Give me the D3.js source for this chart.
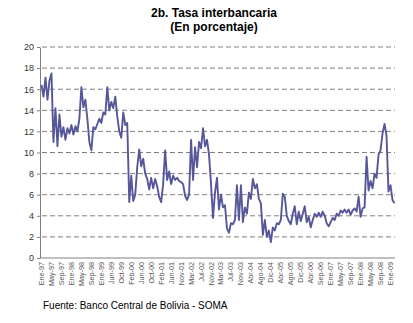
<!DOCTYPE html>
<html>
<head>
<meta charset="utf-8">
<script src="https://cdn.jsdelivr.net/npm/d3@7"></script>
<style>
  html, body { margin: 0; padding: 0; background: #fff; }
  svg { display: block; font-family: "Liberation Sans", Arial, sans-serif; }
</style>
</head>
<body>
<svg id="chart" width="413" height="323"></svg>
<script>
// Tasa interbancaria (%), serie de observaciones equiespaciadas
const tasa = [
  16.4, 15.3, 17.1, 15.0, 16.8, 17.5, 11.0, 14.2, 10.6, 13.6,
  11.5, 12.4, 11.2, 12.3, 11.8, 12.6, 11.7, 12.5, 12.0, 13.2,
  16.2, 14.3, 15.0, 13.2, 11.0, 10.2, 12.4, 12.2, 12.7, 13.2,
  12.8, 13.8, 13.6, 16.2, 14.0, 14.8, 14.2, 15.3, 13.4, 12.0,
  11.4, 13.8, 12.6, 12.8, 5.3, 7.8, 5.4, 6.0, 8.6, 10.3,
  8.7, 9.4, 8.0, 7.5, 6.5, 7.6, 6.6, 7.5, 6.8, 5.8,
  5.3, 7.0, 10.2, 7.4, 8.2, 7.0, 7.8, 7.4, 7.6, 7.3,
  7.2, 7.0, 5.9, 5.5, 6.0, 11.2, 7.4, 10.5, 8.6, 11.0,
  10.4, 12.3, 10.6, 11.2, 9.8, 7.0, 3.8, 6.2, 7.6, 4.6,
  6.0, 4.8, 5.0, 2.8, 2.4, 3.3, 3.2, 3.6, 6.9, 3.6,
  6.9, 3.4, 4.8, 4.2, 6.2, 5.6, 7.5, 6.6, 7.0, 5.6,
  5.2, 2.2, 3.6, 2.0, 2.6, 1.5, 2.9, 2.6, 3.3, 3.2,
  3.6, 6.1, 5.8, 4.0, 3.5, 3.2, 4.2, 4.9, 3.2, 4.4,
  3.5, 4.2, 4.9, 3.4, 3.9, 2.9, 3.6, 4.2, 3.9, 4.3,
  3.9, 4.4, 4.0, 3.3, 3.0, 3.4, 3.8, 3.6, 4.2, 4.0,
  4.5, 4.3, 4.6, 4.3, 4.6, 4.1, 4.5, 4.7, 4.4, 5.8,
  3.9, 4.7, 4.8, 9.6, 6.4, 7.3, 6.6, 8.0, 7.6, 9.8,
  10.2, 11.8, 12.7, 11.6, 6.3, 6.9, 5.5, 5.2
];

// Etiquetas del eje de categorías, una cada 5 observaciones
const etiquetas = [
  "Ene-97", "May-97", "Sep-97", "Ene-98", "May-98", "Sep-98", "Ene-99", "Jun-99",
  "Oct-99", "Feb-00", "Jun-00", "Oct-00", "Feb-01", "Jun-01", "Nov-01", "Mar-02",
  "Jul-02", "Nov-02", "Mar-03", "Jul-03", "Nov-03", "Abr-04", "Ago-04", "Dic-04",
  "Abr-05", "Ago-05", "Dic-05", "Abr-06", "Sep-06", "Ene-07", "May-07", "Sep-07",
  "Ene-08", "May-08", "Sep-08", "Ene-09"
];
const pasoEtiqueta = 5;

const yTicks = [0, 2, 4, 6, 8, 10, 12, 14, 16, 18, 20];

const titulo = ["2b. Tasa interbancaria", "(En porcentaje)"];
const fuente = "Fuente: Banco Central de Bolivia - SOMA";

// Área de trazado
const plot = { left: 40, right: 395, top: 47, bottom: 258 };

const svg = d3.select("#chart");

const x = d3.scaleLinear()
  .domain([0, (etiquetas.length - 1) * pasoEtiqueta])
  .range([41.5, 390.5]);

const y = d3.scaleLinear()
  .domain([0, 20])
  .range([plot.bottom, plot.top]);

// Títulos
svg.selectAll("text.titulo")
  .data(titulo)
  .join("text")
  .attr("class", "titulo")
  .attr("x", 214)
  .attr("y", (d, i) => 17 + i * 14)
  .attr("text-anchor", "middle")
  .attr("font-size", 12)
  .attr("font-weight", "bold")
  .attr("fill", "#000")
  .text(d => d);

// Líneas de cuadrícula horizontales discontinuas
svg.append("g")
  .selectAll("line")
  .data(yTicks.filter(v => v > 0))
  .join("line")
  .attr("x1", plot.left + 2)
  .attr("x2", plot.right)
  .attr("y1", d => y(d))
  .attr("y2", d => y(d))
  .attr("stroke", "#7f7f7f")
  .attr("stroke-width", 1)
  .attr("stroke-dasharray", "5,3");

// Eje Y
const yAxis = svg.append("g")
  .attr("transform", `translate(${plot.left},0)`)
  .call(d3.axisLeft(y).tickValues(yTicks).tickSize(3).tickSizeOuter(0).tickPadding(3));
yAxis.select(".domain").attr("stroke", "#808080");
yAxis.selectAll(".tick line").attr("stroke", "#808080");
yAxis.selectAll(".tick text")
  .attr("font-size", 9)
  .attr("fill", "#333")
  .attr("font-family", "Liberation Sans, Arial, sans-serif");

// Eje X (línea base)
svg.append("line")
  .attr("x1", plot.left)
  .attr("x2", plot.right)
  .attr("y1", y(0))
  .attr("y2", y(0))
  .attr("stroke", "#808080")
  .attr("stroke-width", 1);

// Etiquetas de categoría rotadas
svg.append("g")
  .selectAll("text")
  .data(etiquetas)
  .join("text")
  .attr("transform", (d, i) => `translate(${x(i * pasoEtiqueta) + 2.5},${y(0) + 4}) rotate(-90)`)
  .attr("text-anchor", "end")
  .attr("font-size", 7.2)
  .attr("fill", "#555")
  .text(d => d);

// Serie
const linea = d3.line()
  .x((d, i) => x(i))
  .y(d => y(d));

svg.append("path")
  .datum(tasa)
  .attr("d", linea)
  .attr("fill", "none")
  .attr("stroke", "#56569b")
  .attr("stroke-width", 1.9)
  .attr("stroke-linejoin", "round");

// Fuente
svg.append("text")
  .attr("x", 43)
  .attr("y", 309)
  .attr("font-size", 10)
  .attr("fill", "#000")
  .text(fuente);
</script>
</body>
</html>
